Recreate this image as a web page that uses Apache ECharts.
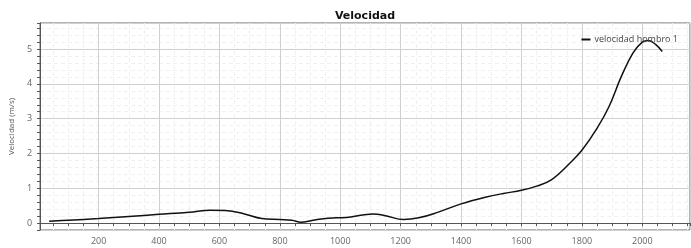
<!DOCTYPE html>
<html>
<head>
<meta charset="utf-8">
<script src="https://cdn.jsdelivr.net/npm/echarts@6/dist/echarts.min.js"></script>
<style>html,body{margin:0;padding:0;background:#fff;}#chart{width:691px;height:248px;}</style>
</head>
<body>
<div id="chart"></div>
<script>
const timeValues = [36, 100, 200, 300, 400, 500, 570, 620, 680, 740, 800, 840, 870, 910, 960, 1020, 1080, 1110, 1150, 1210, 1260, 1320, 1400, 1480, 1540, 1600, 1650, 1700, 1760, 1800, 1850, 1890, 1930, 1970, 2000, 2020, 2045, 2066];
const velocityValues = [0.05, 0.08, 0.13, 0.19, 0.25, 0.31, 0.37, 0.36, 0.27, 0.13, 0.10, 0.08, 0.02, 0.08, 0.14, 0.16, 0.24, 0.26, 0.21, 0.10, 0.15, 0.30, 0.55, 0.74, 0.85, 0.94, 1.06, 1.25, 1.72, 2.09, 2.72, 3.35, 4.2, 4.9, 5.2, 5.25, 5.13, 4.93];
const seriesName = 'velocidad hombro 1';
const titleText = 'Velocidad';
const yAxisName = 'Velocidad (m/s)';

const points = timeValues.map((t, i) => [t, velocityValues[i]]);
const chart = echarts.init(document.getElementById('chart'));
const labelFont = { color: '#666', fontSize: 9, fontFamily: 'Open Sans', formatter: v => String(v) };
chart.setOption({
  animation: false,
  title: {
    text: titleText, left: 360, top: 6, textAlign: 'center',
    textStyle: { fontFamily: 'DejaVu Sans', fontWeight: 'bold', fontSize: 11, color: '#111' }
  },
  legend: {
    right: 8, top: 30, itemWidth: 9, itemHeight: 2, itemGap: 4,
    icon: 'rect',
    textStyle: { fontFamily: 'Open Sans', fontSize: 9, color: '#444', padding: [0,0,0,-1] },
    data: [seriesName]
  },
  grid: { left: 29, right: 1, top: 23, bottom: 18, show: true, borderColor: '#666', borderWidth: 1 },
  xAxis: {
    type: 'value', min: 6, max: 2158, splitNumber: 10,
    axisLine: { show: true, lineStyle: { color: '#555' } },
    axisTick: { show: true, length: 3, lineStyle: { color: '#555' } },
    minorTick: { show: true, splitNumber: 4, length: 3, lineStyle: { color: '#555' } },
    axisLabel: { ...labelFont, margin: 7, showMinLabel: false, showMaxLabel: false },
    splitLine: { show: true, lineStyle: { color: '#d0d0d0' } },
    minorSplitLine: { show: true, lineStyle: { color: '#f0f0f0', type: [4, 3] } }
  },
  yAxis: {
    type: 'value', min: -0.2, max: 5.75, splitNumber: 5,
    name: yAxisName, nameLocation: 'middle', nameGap: 17, nameRotate: 90,
    nameTextStyle: { fontFamily: 'Open Sans', fontSize: 8, color: '#555' },
    axisLine: { show: true, lineStyle: { color: '#555' } },
    axisTick: { show: true, length: 3, lineStyle: { color: '#555' } },
    minorTick: { show: true, splitNumber: 5, length: 3, lineStyle: { color: '#555' } },
    axisLabel: { ...labelFont, margin: 8, showMinLabel: false, showMaxLabel: false },
    splitLine: { show: true, lineStyle: { color: '#d0d0d0' } },
    minorSplitLine: { show: true, lineStyle: { color: '#f0f0f0', type: [4, 3] } }
  },
  series: [{
    name: seriesName, type: 'line', data: points, smooth: 0.4,
    showSymbol: false, symbol: 'none',
    lineStyle: { color: '#111', width: 1.5 }, itemStyle: { color: '#111' }
  }]
});
</script>
</body>
</html>
